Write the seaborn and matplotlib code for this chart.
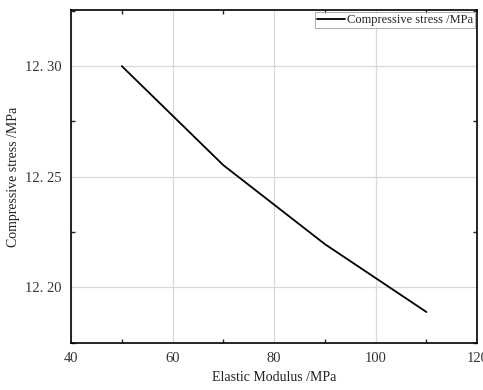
import matplotlib
matplotlib.use("Agg")
import matplotlib.pyplot as plt
import seaborn as sns
import pandas as pd
from matplotlib.ticker import MultipleLocator, FuncFormatter

sns.set_style("whitegrid")
plt.rcParams['font.family'] = ['Liberation Serif', 'DejaVu Serif']

modulus = [50, 70, 90, 110]
stress = [12.300, 12.2552, 12.2195, 12.1888]
df = pd.DataFrame({"Elastic Modulus /MPa": modulus, "Compressive stress /MPa": stress})

fig, ax = plt.subplots(figsize=(4.83, 3.90), dpi=100)
fig.subplots_adjust(left=0.147, right=0.988, top=0.974, bottom=0.12)

sns.lineplot(data=df, x="Elastic Modulus /MPa", y="Compressive stress /MPa",
             ax=ax, color="black", linewidth=1.3, label="Compressive stress /MPa")

ax.set_xlim(40, 120)
ax.set_ylim(12.1747, 12.3253)
ax.xaxis.set_major_locator(MultipleLocator(20))
ax.xaxis.set_minor_locator(MultipleLocator(10))
ax.yaxis.set_major_locator(MultipleLocator(0.05))
ax.yaxis.set_minor_locator(MultipleLocator(0.025))
ax.yaxis.set_major_formatter(FuncFormatter(lambda v, p: f"{v:.2f}".replace(".", ". ")))

ax.grid(True, which="major", color="#d9d9d9", linewidth=0.9)
for s in ax.spines.values():
    s.set_color("black")
    s.set_linewidth(1.2)
ax.tick_params(which="major", direction="out", length=3, width=1, colors="#333333",
               labelsize=10.5, top=False, right=False)
ax.tick_params(which="minor", direction="in", length=3, width=1, top=True, right=True,
               bottom=True, left=True)
ax.set_xlabel("Elastic Modulus /MPa", fontsize=10, color="#222222")
ax.set_ylabel("Compressive stress /MPa", fontsize=10, color="#222222")

leg = ax.legend(loc="upper right", fontsize=9, frameon=True, fancybox=False,
                borderpad=0.15, handlelength=2.2, handletextpad=0.2,
                borderaxespad=0.15)
leg.get_frame().set_edgecolor("#888888")
leg.get_frame().set_linewidth(0.6)

plt.savefig("out.png", dpi=100)
